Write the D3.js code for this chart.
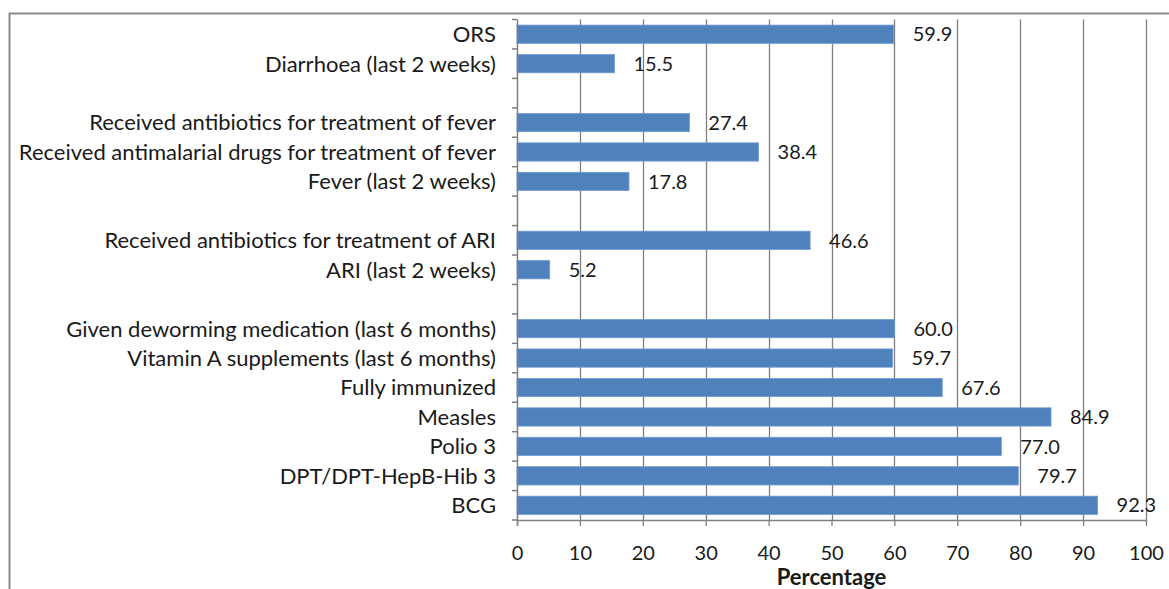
<!DOCTYPE html>
<html><head><meta charset="utf-8">
<script src="https://cdn.jsdelivr.net/npm/d3@7"></script>
<style>
body{margin:0;background:#fff;}
svg{display:block;}
text{font-family:Lato,"Open Sans",sans-serif;fill:#1a1a1a;}
</style></head>
<body>
<svg id="c" width="1169" height="589"></svg>
<script>
const categories = ["ORS","Diarrhoea (last 2 weeks)","gap1",
  "Received antibiotics for treatment of fever","Received antimalarial drugs for treatment of fever","Fever (last 2 weeks)","gap2",
  "Received antibiotics for treatment of ARI","ARI (last 2 weeks)","gap3",
  "Given deworming medication (last 6 months)","Vitamin A supplements (last 6 months)","Fully immunized","Measles","Polio 3","DPT/DPT-HepB-Hib 3","BCG"];
const values = [59.9,15.5,null,27.4,38.4,17.8,null,46.6,5.2,null,60.0,59.7,67.6,84.9,77.0,79.7,92.3];
const xTicks = [0,10,20,30,40,50,60,70,80,90,100];
const xTitle = "Percentage";

(function(){
const svg = d3.select("#c");
const pl = 517, pr = 1146, pt = 19.5, pb = 520;

// frame
svg.append("line").attr("x1",9).attr("x2",1169).attr("y1",13.5).attr("y2",13.5).attr("stroke","#8a8a8a").attr("stroke-width",2);
svg.append("line").attr("x1",9.5).attr("x2",9.5).attr("y1",13).attr("y2",589).attr("stroke","#8a8a8a").attr("stroke-width",2);

const x = d3.scaleLinear().domain([0,100]).range([pl,pr]);
const y = d3.scaleBand().domain(categories).range([pt,pb]).paddingInner(0.38).paddingOuter(0.19);

// gridlines
svg.append("g").selectAll("line").data(xTicks.filter(d=>d>0)).join("line")
  .attr("x1",d=>Math.round(x(d))+0.5).attr("x2",d=>Math.round(x(d))+0.5)
  .attr("y1",pt).attr("y2",pb)
  .attr("stroke","#7f7f7f").attr("stroke-width",1.3);

// bars
const data = categories.map((c,i)=>({c,v:values[i]})).filter(d=>d.v!=null);
svg.append("g").selectAll("rect").data(data).join("rect")
  .attr("x",x(0)).attr("y",d=>y(d.c)).attr("width",d=>x(d.v)-x(0)).attr("height",y.bandwidth())
  .attr("fill","#4f81bd").attr("stroke","#6f9bd1").attr("stroke-width",0.8);

// value labels
svg.append("g").selectAll("text").data(data).join("text")
  .attr("x",d=>x(d.v)+19).attr("y",d=>y(d.c)+y.bandwidth()/2)
  .attr("dy","0.36em").attr("font-size",20).text(d=>d.v.toFixed(1));

// x axis
const xAxis = d3.axisBottom(x).tickValues(xTicks).tickSize(6).tickPadding(20).tickFormat(d3.format("d"));
const gx = svg.append("g").attr("transform",`translate(0,${pb})`).call(xAxis);
gx.select(".domain").attr("stroke","#7f7f7f").attr("stroke-width",1.5).attr("d",`M${pl},0.5H${pr}`);
gx.selectAll(".tick line").attr("stroke","#7f7f7f").attr("stroke-width",1.3);
gx.selectAll(".tick text").attr("font-size",20).attr("font-family","Lato").attr("fill","#1a1a1a");

// y axis with ticks at band boundaries
const step = y.step();
const boundaries = d3.range(categories.length+1).map(i=>pt + i*step);
svg.append("line").attr("x1",pl+0.5).attr("x2",pl+0.5).attr("y1",pt).attr("y2",pb+6).attr("stroke","#7f7f7f").attr("stroke-width",1.5);
svg.append("g").selectAll("line").data(boundaries).join("line")
  .attr("x1",pl-5).attr("x2",pl).attr("y1",d=>d).attr("y2",d=>d)
  .attr("stroke","#7f7f7f").attr("stroke-width",1.5);

// category labels
svg.append("g").selectAll("text").data(categories.filter(c=>!c.startsWith("gap"))).join("text")
  .attr("x",496).attr("y",d=>y(d)+y.bandwidth()/2).attr("dy","0.36em")
  .attr("text-anchor","end").attr("font-size",22).text(d=>d);

// x title
svg.append("text").attr("x",(pl+pr)/2).attr("y",585).attr("text-anchor","middle")
  .attr("font-size",22).attr("font-weight","bold").text(xTitle);
})();
</script>
</body></html>
